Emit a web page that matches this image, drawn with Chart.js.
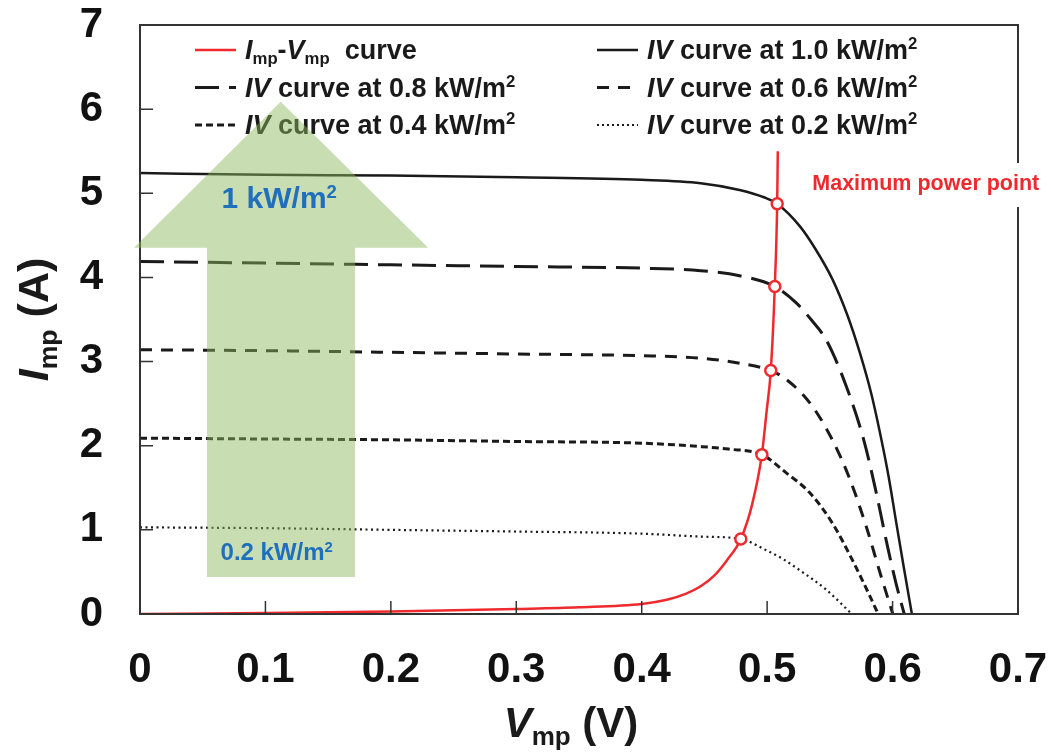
<!DOCTYPE html>
<html>
<head>
<meta charset="utf-8">
<script src="https://cdn.jsdelivr.net/npm/chart.js@4.4.1/dist/chart.umd.min.js"></script>
<style>
  html, body { margin: 0; background: #fff; }
</style>
</head>
<body>
<canvas id="grafico" width="1051" height="752"></canvas>
<script>
// Datos (V en voltios, I en amperios)
const xTicks = [0, 0.1, 0.2, 0.3, 0.4, 0.5, 0.6, 0.7];
const yTicks = [0, 1, 2, 3, 4, 5, 6, 7];

const v10 = [0, 0.1, 0.2, 0.3, 0.4, 0.447, 0.478, 0.498, 0.508, 0.526, 0.538, 0.552, 0.564, 0.574, 0.583, 0.590, 0.597, 0.603, 0.609, 0.6154];
const i10 = [5.24, 5.22, 5.21, 5.19, 5.16, 5.12, 5.04, 4.95, 4.876, 4.61, 4.35, 3.98, 3.55, 3.1, 2.62, 2.15, 1.62, 1.08, 0.55, 0];

const v08 = [0, 0.1, 0.2, 0.3, 0.4, 0.447, 0.478, 0.5061, 0.523, 0.535, 0.547, 0.563, 0.577, 0.587, 0.596, 0.603, 0.6093];
const i08 = [4.19, 4.17, 4.15, 4.13, 4.11, 4.08, 4.02, 3.892, 3.7, 3.5, 3.26, 2.71, 2.07, 1.44, 0.8, 0.35, 0];

const v06 = [0, 0.1, 0.2, 0.3, 0.4, 0.447, 0.478, 0.5029, 0.515, 0.534, 0.552, 0.566, 0.579, 0.590, 0.6002];
const i06 = [3.14, 3.13, 3.11, 3.09, 3.07, 3.04, 2.98, 2.893, 2.79, 2.51, 2.07, 1.6, 1.04, 0.49, 0];

const v04 = [0, 0.1, 0.2, 0.3, 0.4, 0.447, 0.469, 0.4958, 0.515, 0.534, 0.552, 0.568, 0.582, 0.5885];
const i04 = [2.09, 2.08, 2.07, 2.05, 2.03, 1.99, 1.96, 1.894, 1.68, 1.44, 1.08, 0.64, 0.21, 0];

const v02 = [0, 0.1, 0.2, 0.3, 0.4, 0.447, 0.479, 0.499, 0.513, 0.526, 0.547, 0.5675];
const i02 = [1.03, 1.02, 1.0, 0.98, 0.955, 0.92, 0.892, 0.76, 0.65, 0.52, 0.29, 0];

// Curva Imp-Vmp y puntos de máxima potencia
const vMpp = [0, 0.1, 0.2, 0.3, 0.35, 0.4, 0.42, 0.435, 0.447, 0.458, 0.468, 0.479, 0.488, 0.4958, 0.4995, 0.5029, 0.5061, 0.508, 0.5085];
const iMpp = [0, 0.012, 0.03, 0.06, 0.08, 0.12, 0.17, 0.24, 0.33, 0.46, 0.64, 0.892, 1.3, 1.894, 2.4, 2.893, 3.892, 4.876, 5.5];

const vPuntos = [0.508, 0.5061, 0.5029, 0.4958, 0.479];
const iPuntos = [4.876, 3.892, 2.893, 1.894, 0.892];

// Flecha de irradiancia (en unidades de datos)
const flechaX = [0.0534, 0.0534, -0.0048, 0.1122, 0.2297, 0.1715, 0.1715];
const flechaY = [0.44, 4.352, 4.352, 6.089, 4.352, 4.352, 0.44];

const FONT = '"Liberation Sans", Arial, Helvetica, sans-serif';
const ROJO = '#ee2a2e';
const NEGRO = '#1a1a1a';

const pares = (xs, ys) => xs.map((x, k) => ({ x, y: ys[k] }));

function fuente(p, size) {
  return `${p.it ? 'italic ' : ''}bold ${size}px ${FONT}`;
}

// Texto con cursiva, subíndices y superíndices
function textoRico(ctx, partes, x, y, size, color, align) {
  let ancho = 0;
  partes.forEach(p => {
    const s = (p.sub || p.sup) ? size * 0.62 : size;
    ctx.font = fuente(p, s);
    ancho += ctx.measureText(p.t).width;
  });
  let cx = align === 'center' ? x - ancho / 2 : x;
  ctx.fillStyle = color;
  ctx.textAlign = 'left';
  ctx.textBaseline = 'alphabetic';
  partes.forEach(p => {
    const s = (p.sub || p.sup) ? size * 0.62 : size;
    const dy = p.sub ? size * 0.2 : p.sup ? -size * 0.36 : 0;
    ctx.font = fuente(p, s);
    ctx.fillText(p.t, cx, y + dy);
    cx += ctx.measureText(p.t).width;
  });
}

const leyenda = [
  { col: 0, fila: 0, color: ROJO, dash: [], ancho: 2.5, partes: [{ t: 'I', it: true }, { t: 'mp', sub: true }, { t: '-' }, { t: 'V', it: true }, { t: 'mp', sub: true }, { t: '  curve' }] },
  { col: 1, fila: 0, color: NEGRO, dash: [], ancho: 2.5, partes: [{ t: 'IV', it: true }, { t: ' curve at 1.0 kW/m' }, { t: '2', sup: true }] },
  { col: 0, fila: 1, color: NEGRO, dash: [24, 10], ancho: 3, partes: [{ t: 'IV', it: true }, { t: ' curve at 0.8 kW/m' }, { t: '2', sup: true }] },
  { col: 1, fila: 1, color: NEGRO, dash: [12, 9], ancho: 3, partes: [{ t: 'IV', it: true }, { t: ' curve at 0.6 kW/m' }, { t: '2', sup: true }] },
  { col: 0, fila: 2, color: NEGRO, dash: [7, 4], ancho: 3, partes: [{ t: 'IV', it: true }, { t: ' curve at 0.4 kW/m' }, { t: '2', sup: true }] },
  { col: 1, fila: 2, color: NEGRO, dash: [2, 3], ancho: 2, partes: [{ t: 'IV', it: true }, { t: ' curve at 0.2 kW/m' }, { t: '2', sup: true }] }
];

const decoracion = {
  id: 'decoracion',
  afterDatasetsDraw(chart) {
    const ctx = chart.ctx;
    const a = chart.chartArea;
    const xs = chart.scales.x;
    const ys = chart.scales.y;
    ctx.save();

    // Marco
    ctx.strokeStyle = '#333';
    ctx.lineWidth = 2;
    ctx.setLineDash([]);
    ctx.strokeRect(a.left, a.top, a.right - a.left, a.bottom - a.top);

    // Marcas hacia dentro
    ctx.lineWidth = 1.5;
    ctx.beginPath();
    xTicks.slice(1, -1).forEach(v => {
      const px = xs.getPixelForValue(v);
      ctx.moveTo(px, a.bottom);
      ctx.lineTo(px, a.bottom - 13);
    });
    yTicks.slice(1, -1).forEach(v => {
      const py = ys.getPixelForValue(v);
      ctx.moveTo(a.left, py);
      ctx.lineTo(a.left + 13, py);
    });
    ctx.stroke();

    // Leyenda
    leyenda.forEach(item => {
      const x0 = item.col === 0 ? a.left + 55 : a.left + 457;
      const yc = a.top + 25 + item.fila * 37.5;
      ctx.strokeStyle = item.color;
      ctx.lineWidth = item.ancho;
      ctx.setLineDash(item.dash);
      ctx.beginPath();
      ctx.moveTo(x0, yc);
      ctx.lineTo(x0 + 41, yc);
      ctx.stroke();
      textoRico(ctx, item.partes, x0 + 50, yc + 9, 27, NEGRO, 'left');
    });
    ctx.setLineDash([]);

    // Etiqueta "Maximum power point" sobre el borde derecho
    ctx.font = `bold 21.5px ${FONT}`;
    const etiqueta = 'Maximum power point';
    const lx = xs.getPixelForValue(0.536);
    const ly = ys.getPixelForValue(5.11);
    const w = ctx.measureText(etiqueta).width;
    ctx.fillStyle = '#fff';
    ctx.fillRect(lx - 4, ly - 21, w + 8, 44);
    ctx.fillStyle = ROJO;
    ctx.textAlign = 'left';
    ctx.textBaseline = 'middle';
    ctx.fillText(etiqueta, lx, ly);

    // Flecha verde semitransparente
    ctx.fillStyle = 'rgba(140, 183, 92, 0.48)';
    ctx.beginPath();
    flechaX.forEach((v, k) => {
      const px = xs.getPixelForValue(v);
      const py = ys.getPixelForValue(flechaY[k]);
      if (k === 0) ctx.moveTo(px, py); else ctx.lineTo(px, py);
    });
    ctx.closePath();
    ctx.fill();

    const azul = '#1f6fbd';
    textoRico(ctx, [{ t: '1 kW/m' }, { t: '2', sup: true }], xs.getPixelForValue(0.111), ys.getPixelForValue(4.82), 30, azul, 'center');
    textoRico(ctx, [{ t: '0.2 kW/m' }, { t: '2', sup: true }], xs.getPixelForValue(0.109), ys.getPixelForValue(0.64), 24, azul, 'center');

    // Títulos de los ejes
    textoRico(ctx, [{ t: 'V', it: true }, { t: 'mp', sub: true }, { t: ' (V)' }], 571, 737, 42, NEGRO, 'center');
    ctx.translate(48, (a.top + a.bottom) / 2);
    ctx.rotate(-Math.PI / 2);
    textoRico(ctx, [{ t: 'I', it: true }, { t: 'mp', sub: true }, { t: ' (A)' }], 0, 0, 43, NEGRO, 'center');

    ctx.restore();
  }
};

const linea = (datos, dash, ancho) => ({
  data: datos,
  showLine: true,
  borderColor: NEGRO,
  borderWidth: ancho,
  borderDash: dash,
  pointRadius: 0,
  fill: false,
  cubicInterpolationMode: 'monotone'
});

// Quitar el relleno automático que añade Chart.js por las etiquetas
const sinRelleno = s => {
  s.paddingTop = 0;
  s.paddingBottom = 0;
  s.paddingLeft = 0;
  s.paddingRight = 0;
};

new Chart(document.getElementById('grafico'), {
  type: 'scatter',
  data: {
    datasets: [
      {
        data: pares(vPuntos, iPuntos),
        pointRadius: 5.5,
        pointBorderWidth: 2.5,
        pointBorderColor: ROJO,
        pointBackgroundColor: '#fff',
        showLine: false
      },
      {
        data: pares(vMpp, iMpp),
        showLine: true,
        borderColor: ROJO,
        borderWidth: 2.5,
        pointRadius: 0,
        cubicInterpolationMode: 'monotone'
      },
      linea(pares(v10, i10), [], 2.5),
      linea(pares(v08, i08), [24, 10], 3),
      linea(pares(v06, i06), [12, 9], 3),
      linea(pares(v04, i04), [7, 4], 3),
      linea(pares(v02, i02), [2, 3.5], 2.2)
    ]
  },
  options: {
    responsive: false,
    animation: false,
    layout: { padding: { left: 0, right: 33, top: 25, bottom: 0 } },
    plugins: { legend: { display: false }, tooltip: { enabled: false } },
    scales: {
      x: {
        type: 'linear',
        min: 0,
        max: 0.7,
        afterBuildTicks: s => { s.ticks = xTicks.map(v => ({ value: v })); },
        afterFit: s => { s.height = 138; sinRelleno(s); },
        grid: { display: false, drawTicks: false },
        border: { display: false },
        ticks: {
          padding: 31,
          color: '#111',
          font: { family: FONT, size: 42, weight: 'bold' },
          callback: v => v === 0 ? '0' : v.toFixed(1)
        }
      },
      y: {
        type: 'linear',
        min: 0,
        max: 7,
        afterBuildTicks: s => { s.ticks = yTicks.map(v => ({ value: v })); },
        afterFit: s => { s.width = 140; sinRelleno(s); },
        grid: { display: false, drawTicks: false },
        border: { display: false },
        ticks: {
          padding: 37,
          color: '#111',
          font: { family: FONT, size: 42, weight: 'bold' },
          callback: v => String(v)
        }
      }
    }
  },
  plugins: [decoracion]
});
</script>
</body>
</html>
